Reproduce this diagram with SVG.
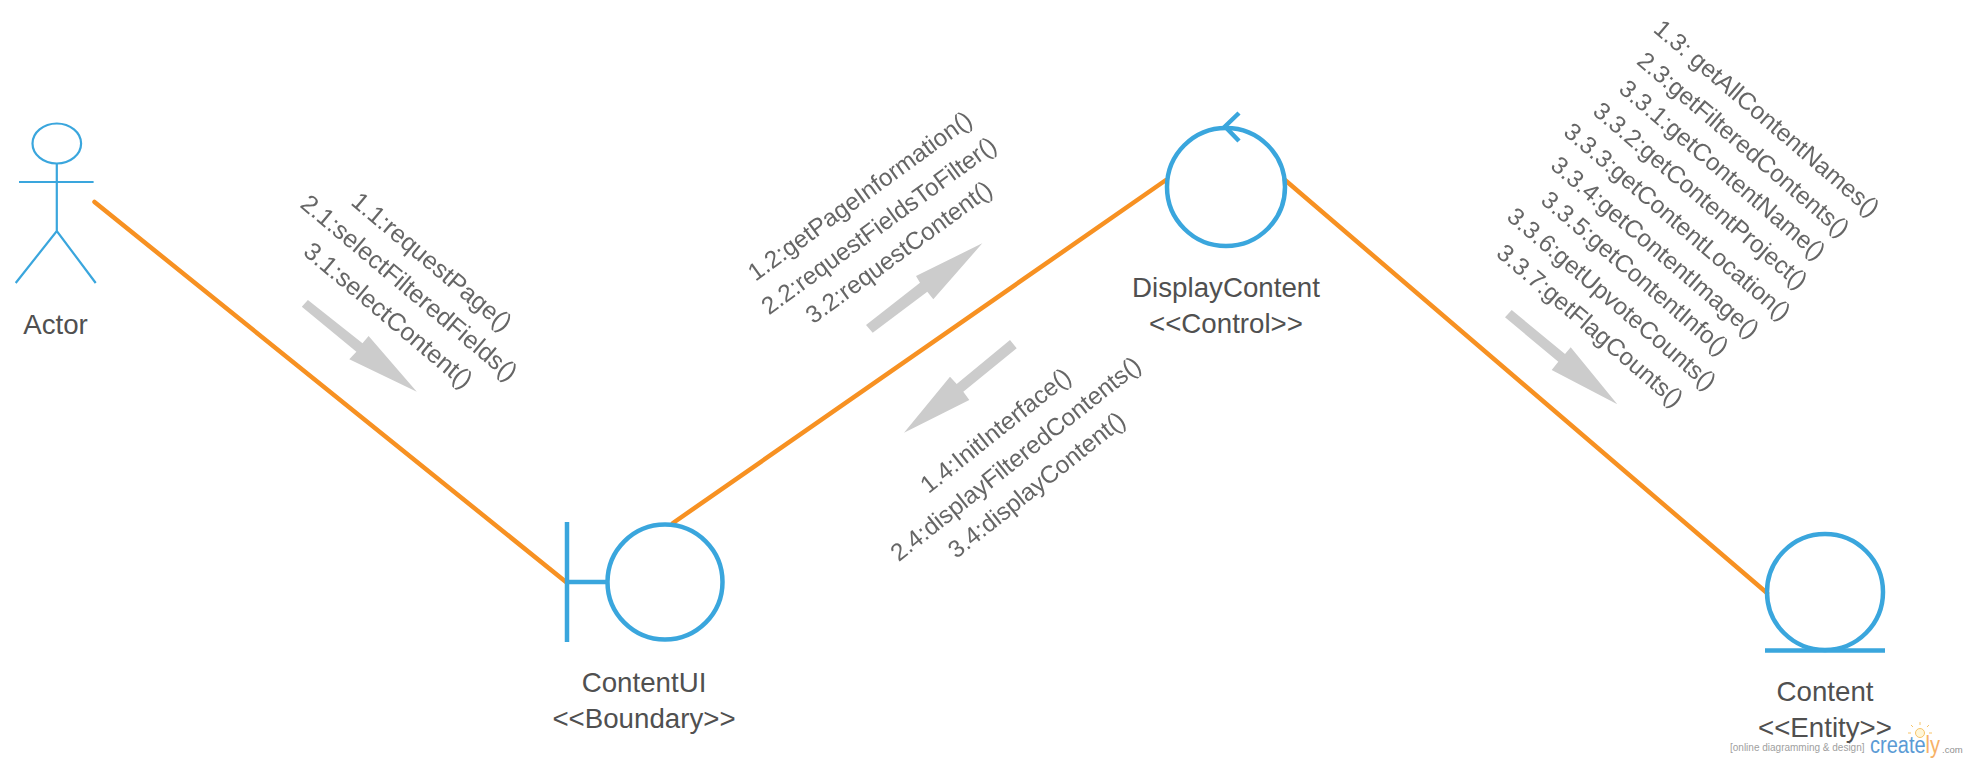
<svg xmlns="http://www.w3.org/2000/svg" width="1968" height="763" viewBox="0 0 1968 763">
<defs><filter id="soft" x="-5%" y="-5%" width="110%" height="110%"><feGaussianBlur stdDeviation="0.4"/></filter></defs>
<style>
text{font-family:"Liberation Sans",Arial,sans-serif}
.n{font-size:27.700px;fill:#505050;text-anchor:middle}
.m{font-size:24.400px;fill:#666666;text-anchor:middle}
.b{font-size:25px}
.s{fill:none;stroke:#3aa6dd;stroke-width:4.5}
.a{fill:none;stroke:#3aa6dd;stroke-width:2.2}
.c{stroke:#f79122;stroke-width:4.5;stroke-linecap:round;fill:none}
.g{fill:#cccccc}
.r{stroke:#f7c46a;stroke-width:1;fill:none}
</style>
<rect width="1968" height="763" fill="#ffffff"/>
<g id="connectors">
<line class="c" x1="94.500" y1="202" x2="566" y2="582"/>
<line class="c" x1="673" y1="523" x2="1166" y2="180"/>
<line class="c" x1="1285" y1="180" x2="1767" y2="593"/>
</g>
<g id="actor">
<ellipse class="a" cx="56.800" cy="143.500" rx="24.300" ry="20"/>
<path class="a" d="M56.800 164V231M19 182H93.600M15.700 283L56.800 231L95.700 283"/>
<text class="n" x="55.500" y="334">Actor</text>
</g>
<g id="contentui">
<path class="s" d="M567 522V642M567 582H607"/>
<circle class="s" cx="665" cy="582" r="57.500"/>
<text class="n" x="644" y="692">ContentUI</text>
<text class="n" x="644" y="728">&lt;&lt;Boundary&gt;&gt;</text>
</g>
<g id="displaycontent">
<circle class="s" cx="1226" cy="187" r="59"/>
<path class="s" d="M1239 113L1225 126.500L1239 141"/>
<text class="n" x="1226" y="297">DisplayContent</text>
<text class="n" x="1226" y="333">&lt;&lt;Control&gt;&gt;</text>
</g>
<g id="content">
<circle class="s" cx="1825" cy="592" r="58"/>
<path class="s" d="M1765 650.500H1885"/>
<text class="n" x="1825" y="701">Content</text>
<text class="n" x="1825" y="737">&lt;&lt;Entity&gt;&gt;</text>
</g>
<g id="flow-arrows">
<polygon class="g" points="301.800,306.700 307.900,300 362.500,343.300 368.600,336 416.800,391.700 349.300,359.300 356.400,351.700"/>
<polygon class="g" points="866,325 920,282.700 916,276 982.300,243.300 933.300,299.300 927.300,291.700 872.700,332.700"/>
<polygon class="g" points="1010,340 1016.700,348.300 963.300,391.700 969.300,400 904,432.700 950,376.700 956.700,384"/>
<polygon class="g" points="1505,317.300 1511.700,310 1565,354 1570.700,347.300 1617.300,404.300 1551.700,370 1558.300,361.700"/>
</g>
<g id="labels" filter="url(#soft)">
<text class="m b" transform="translate(431.500,262) rotate(40)" y="8">1.1:requestPage()</text>
<text class="m b" transform="translate(409,288) rotate(40)" y="8">2.1:selectFilteredFields()</text>
<text class="m b" transform="translate(388,315.500) rotate(40)" y="8">3.1:selectContent()</text>
<text class="m" transform="translate(860,196) rotate(-36)" y="8">1.2:getPageInformation()</text>
<text class="m" transform="translate(879,225.700) rotate(-36)" y="8">2.2:requestFieldsToFilter()</text>
<text class="m" transform="translate(899,252.300) rotate(-36)" y="8">3.2:requestContent()</text>
<text class="m" transform="translate(995.700,430.700) rotate(-38.500)" y="8">1.4:InitInterface()</text>
<text class="m" transform="translate(1015.700,459) rotate(-38.500)" y="8">2.4:displayFilteredContents()</text>
<text class="m" transform="translate(1036.700,485) rotate(-38.500)" y="8">3.4:displayContent()</text>
<text class="m" transform="translate(1766.700,118.300) rotate(40.500)" y="8">1.3: getAllContentNames()</text>
<text class="m" transform="translate(1743.300,144.500) rotate(40.500)" y="8">2.3:getFilteredContents()</text>
<text class="m" transform="translate(1722.300,170) rotate(40.500)" y="8">3.3.1:getContentName()</text>
<text class="m" transform="translate(1700.300,195.700) rotate(40.500)" y="8">3.3.2:getContentProject()</text>
<text class="m" transform="translate(1677.300,221.700) rotate(40.500)" y="8">3.3.3:getContentLocation()</text>
<text class="m" transform="translate(1655,247.300) rotate(40.500)" y="8">3.3.4:getContentImage()</text>
<text class="m" transform="translate(1635,273.300) rotate(40.500)" y="8">3.3.5:getContentInfo()</text>
<text class="m" transform="translate(1611.700,299) rotate(40.500)" y="8">3.3.6:getUpvoteCounts()</text>
<text class="m" transform="translate(1590,325.700) rotate(40.500)" y="8">3.3.7:getFlagCounts()</text>
</g>
<g id="watermark">
<text x="1730" y="750.500" font-size="10" fill="#a0a0a0">[online diagramming &amp; design]</text>
<text x="1870" y="753" font-size="23" fill="#5b9bd5" textLength="70" lengthAdjust="spacingAndGlyphs">create<tspan fill="#f7b267">ly</tspan></text>
<text x="1942" y="753" font-size="9.500" fill="#909090">.com</text>
<circle cx="1920" cy="733" r="4.500" fill="#fff6d8" stroke="#f7c46a" stroke-width="1"/>
<path class="r" d="M1920 725V722M1913 727L1911 725M1927 727L1929 725M1911 733H1908M1929 733H1932"/>
</g>
</svg>
